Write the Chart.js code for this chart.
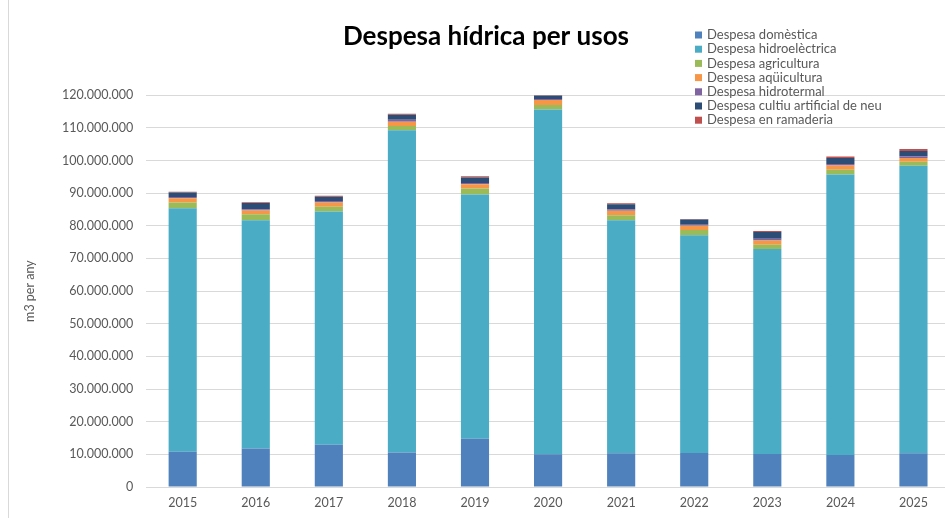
<!DOCTYPE html>
<html>
<head>
<meta charset="utf-8">
<script src="https://cdn.jsdelivr.net/npm/chart.js@4"></script>
<style>
    html, body { margin: 0; padding: 0; background: #fff; overflow: hidden; }
    #wrap { position: relative; width: 950px; height: 518px; }
    #marco { position: absolute; left: 8px; top: 0; width: 1px; height: 518px; background: #d9d9d9; }
</style>
</head>
<body>
<div id="wrap">
    <canvas id="grafico"></canvas>
    <div id="marco"></div>
</div>
<script>
// Dades
const anys = ['2015', '2016', '2017', '2018', '2019', '2020', '2021', '2022', '2023', '2024', '2025'];
const domestica    = [10800000, 11800000, 12950000, 10600000, 14800000, 10000000, 10300000, 10400000, 10100000, 9800000, 10300000];
const hidroelec    = [74600000, 69900000, 71450000, 98700000, 74800000, 105600000, 71400000, 66700000, 62800000, 85900000, 88100000];
const agricultura  = [1700000, 1800000, 1400000, 1300000, 1800000, 1400000, 1500000, 1600000, 1300000, 1500000, 1200000];
const aquicultura  = [1300000, 1200000, 1300000, 1300000, 1300000, 1500000, 1400000, 1300000, 1300000, 1300000, 1200000];
const hidrotermal  = [400000, 400000, 500000, 600000, 400000, 300000, 500000, 300000, 500000, 400000, 500000];
const neu          = [1400000, 1900000, 1300000, 1500000, 1700000, 1100000, 1500000, 1600000, 2100000, 1900000, 1600000];
const ramaderia    = [200000, 200000, 300000, 300000, 400000, 200000, 300000, 200000, 300000, 400000, 600000];

const gris = '#595959';
const font = 'Lato';

function ambPunts(v) {
    return String(v).replace(/\B(?=(\d{3})+(?!\d))/g, '.');
}

// llegenda dibuixada a mà, damunt de l'area del grafic
const llegenda = {
    id: 'llegenda',
    afterDraw(chart) {
        const c = chart.ctx;
        c.save();
        c.font = '13px ' + font;
        c.textBaseline = 'middle';
        chart.data.datasets.forEach((ds, i) => {
            const y = 35 + i * 14.2;
            c.fillStyle = ds.backgroundColor;
            c.fillRect(695, y - 3.5, 7, 7);
            c.fillStyle = gris;
            c.fillText(ds.label, 707, y);
        });
        c.restore();
    }
};

const ctx = document.getElementById('grafico').getContext('2d');
new Chart(ctx, {
    type: 'bar',
    data: {
        labels: anys,
        datasets: [
            { label: 'Despesa domèstica', data: domestica, backgroundColor: '#4F81BD' },
            { label: 'Despesa hidroelèctrica', data: hidroelec, backgroundColor: '#4BACC6' },
            { label: 'Despesa agricultura', data: agricultura, backgroundColor: '#9BBB59' },
            { label: 'Despesa aqüicultura', data: aquicultura, backgroundColor: '#F79646' },
            { label: 'Despesa hidrotermal', data: hidrotermal, backgroundColor: '#8064A2' },
            { label: 'Despesa cultiu artificial de neu', data: neu, backgroundColor: '#2C4D75' },
            { label: 'Despesa en ramaderia', data: ramaderia, backgroundColor: '#C0504D' }
        ]
    },
    options: {
        responsive: true,
        maintainAspectRatio: false,
        animation: false,
        layout: {
            padding: { left: 22, right: 0, top: 0, bottom: 0 }
        },
        datasets: {
            bar: { categoryPercentage: 1, barPercentage: 0.385 }
        },
        scales: {
            x: {
                stacked: true,
                grid: { display: false, drawTicks: false },
                border: { color: '#d9d9d9' },
                ticks: { color: gris, font: { family: font, size: 12.5 }, padding: 8, maxRotation: 0 }
            },
            y: {
                stacked: true,
                min: 0,
                max: 120000000,
                border: { display: false },
                grid: { color: '#d9d9d9', drawTicks: false },
                ticks: {
                    stepSize: 10000000,
                    color: gris,
                    padding: 13,
                    font: { family: font, size: 12.5 },
                    callback: (v) => ambPunts(v)
                },
                title: {
                    display: true,
                    text: 'm3 per any',
                    color: gris,
                    font: { family: font, size: 12.5 },
                    padding: { top: 0, bottom: 12 }
                }
            }
        },
        plugins: {
            legend: { display: false },
            tooltip: { enabled: false },
            title: {
                display: true,
                text: 'Despesa hídrica per usos',
                color: '#000',
                font: { family: font, size: 26, weight: 'bold' },
                padding: { top: 21, bottom: 43 }
            }
        }
    },
    plugins: [llegenda]
});
</script>
</body>
</html>
